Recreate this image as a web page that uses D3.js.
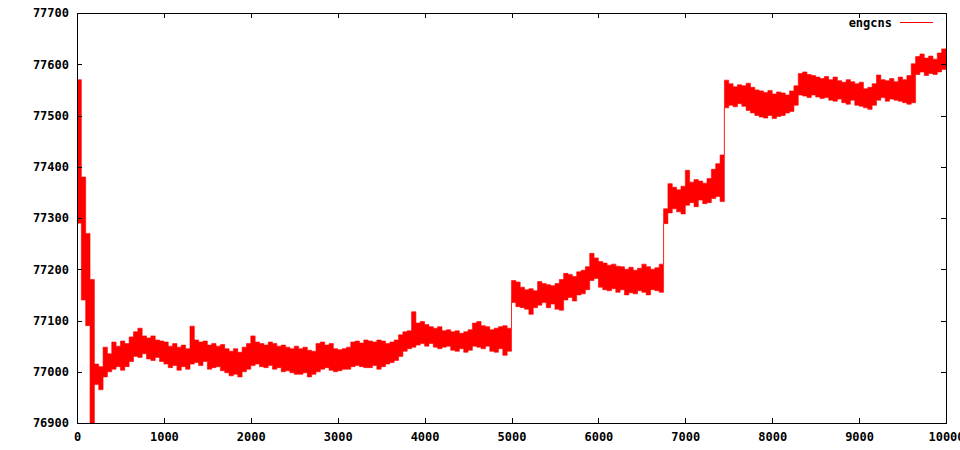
<!DOCTYPE html>
<html>
<head>
<meta charset="utf-8">
<script src="https://cdn.jsdelivr.net/npm/d3@7"></script>
<style>
    body { margin: 0; background: #ffffff; }
    svg { display: block; }
    text { font-family: "DejaVu Sans Mono", "Liberation Mono", monospace; font-size: 12px; font-weight: bold; fill: #000; }
</style>
</head>
<body>
<svg></svg>
<script>
const width = 960
const height = 450

// Data: band of the engcns series, read every 50 steps (upper and lower edge)
const seriesName = "engcns"
const step = 50
const highs = [
    77570, 77380, 77270, 77180, 77015, 77010, 77048, 77035, 77058, 77050,
    77060, 77055, 77068, 77078, 77085, 77070, 77066, 77070, 77062, 77060,
    77058, 77050, 77055, 77048, 77052, 77045, 77089, 77062, 77058, 77060,
    77052, 77055, 77050, 77053, 77045, 77040, 77045, 77038, 77048, 77055,
    77070, 77058, 77055, 77052, 77058, 77055, 77050, 77052, 77048, 77045,
    77050, 77045, 77048, 77042, 77040, 77055, 77058, 77052, 77055, 77045,
    77043, 77045, 77048, 77058, 77060, 77056, 77062, 77060, 77058, 77062,
    77060, 77055, 77058, 77062, 77072, 77078, 77080, 77117, 77095, 77098,
    77092, 77088, 77085, 77088, 77080, 77082, 77078, 77080, 77075, 77078,
    77082, 77095, 77098, 77090, 77088, 77082, 77085, 77088, 77090, 77085,
    77178, 77175, 77165, 77160, 77162, 77158, 77176, 77172, 77170, 77168,
    77172, 77180, 77192, 77190, 77186, 77195, 77198, 77205, 77231, 77222,
    77215, 77212, 77208, 77210, 77206, 77205, 77200, 77204, 77198, 77202,
    77210, 77205, 77200, 77203, 77210, 77318, 77367, 77360, 77355, 77362,
    77393, 77370, 77375, 77372, 77368, 77377, 77395, 77406, 77423, 77569,
    77562, 77556, 77560, 77558, 77563, 77555, 77550, 77548, 77545, 77549,
    77542, 77546, 77544, 77540, 77548, 77558, 77582, 77585, 77580, 77578,
    77575, 77572, 77576, 77570, 77575, 77568, 77565, 77570, 77566, 77562,
    77565, 77552, 77555, 77562, 77579, 77570, 77568, 77572, 77566, 77575,
    77570, 77578, 77601, 77615, 77620, 77612, 77616, 77610, 77622, 77630
]
const lows = [
    77290, 77140, 77090, 76900, 76975, 76965, 76990, 77000, 77005, 77010,
    77003, 77010, 77020, 77030, 77028, 77035, 77025, 77022, 77028, 77020,
    77015, 77008, 77012, 77003, 77010, 77005, 77015, 77018, 77012, 77020,
    77005, 77008, 77010, 77002, 76998, 76992, 76995, 76990, 77000, 77005,
    77012, 77015, 77010, 77008, 77012, 77005, 77008, 77000, 77002, 76998,
    76995, 76995, 76998, 76990, 76995, 77000, 77005, 77008, 77003, 77000,
    77002, 77005, 77005, 77010, 77012, 77010, 77008, 77008, 77012, 77005,
    77010, 77015, 77018, 77022, 77030, 77040, 77045, 77048, 77052, 77055,
    77050, 77055, 77048, 77045, 77048, 77050, 77042, 77040, 77045, 77038,
    77042, 77050, 77048, 77045, 77050, 77040, 77038, 77045, 77032, 77040,
    77135, 77127, 77125, 77122, 77112, 77125, 77130, 77135, 77125, 77132,
    77122, 77120, 77140, 77145, 77138, 77150, 77152, 77160, 77178, 77182,
    77165, 77160, 77158, 77162, 77155, 77160, 77150, 77154, 77152, 77158,
    77155, 77150, 77160, 77158, 77155, 77289, 77310, 77318, 77312, 77308,
    77325, 77330, 77322, 77335, 77328, 77330, 77338, 77342, 77332, 77515,
    77520, 77517, 77523, 77518, 77510, 77505, 77500, 77497, 77495, 77500,
    77494, 77498, 77500, 77505, 77508, 77520, 77540, 77538, 77535, 77540,
    77536, 77533, 77535, 77530, 77528, 77532, 77525, 77522, 77530, 77520,
    77518, 77515, 77512, 77520, 77530, 77535, 77528, 77532, 77530, 77528,
    77525, 77522, 77525, 77580, 77585, 77578, 77582, 77580, 77585, 77590
]

// Axis configuration
const xTicks = [0, 1000, 2000, 3000, 4000, 5000, 6000, 7000, 8000, 9000, 10000]
const yTicks = [76900, 77000, 77100, 77200, 77300, 77400, 77500, 77600, 77700]

const plotLeft = 77
const plotRight = 946
const plotTop = 13
const plotBottom = 423
const tickLength = 5
const lineColor = "#ff0000"

const svg = d3.select("svg")
    .attr("width", width)
    .attr("height", height)

const x = d3.scaleLinear().domain([0, 10000]).range([plotLeft, plotRight])
const y = d3.scaleLinear().domain([76900, 77700]).range([plotBottom, plotTop])

// each sample covers [i*step, (i+1)*step); a closing record carries the last one to the end
const band = highs.map((h, i) => ({ x: i * step, hi: h, lo: lows[i] }))
band.push({ x: highs.length * step, hi: highs[highs.length - 1], lo: lows[lows.length - 1] })

const area = d3.area()
    .curve(d3.curveStepAfter)
    .x(d => x(d.x))
    .y0(d => y(d.lo))
    .y1(d => y(d.hi))

svg.append("defs").append("clipPath")
    .attr("id", "plot-clip")
    .append("rect")
    .attr("x", plotLeft)
    .attr("y", plotTop)
    .attr("width", plotRight - plotLeft)
    .attr("height", plotBottom - plotTop)

svg.append("path")
    .datum(band)
    .attr("clip-path", "url(#plot-clip)")
    .attr("fill", lineColor)
    .attr("stroke", lineColor)
    .attr("stroke-width", 0.6)
    .attr("d", area)

// Axes: gnuplot style, inward ticks mirrored on every side
const axisLeft = d3.axisLeft(y).tickValues(yTicks).tickSize(-tickLength).tickPadding(8).tickFormat(d3.format("d"))
const axisRight = d3.axisRight(y).tickValues(yTicks).tickSize(-tickLength).tickFormat("")
const axisBottom = d3.axisBottom(x).tickValues(xTicks).tickSize(-tickLength).tickPadding(9).tickFormat(d3.format("d"))
const axisTop = d3.axisTop(x).tickValues(xTicks).tickSize(-tickLength).tickFormat("")

function styleAxis(g) {
    g.select(".domain").remove()
    g.selectAll("line").attr("stroke", "#000").attr("shape-rendering", "crispEdges")
    g.selectAll("text").attr("font-family", null).attr("font-size", null)
}

svg.append("g").attr("transform", `translate(${plotLeft},0)`).call(axisLeft).call(styleAxis)
svg.append("g").attr("transform", `translate(${plotRight},0)`).call(axisRight).call(styleAxis)
svg.append("g").attr("transform", `translate(0,${plotBottom})`).call(axisBottom).call(styleAxis)
svg.append("g").attr("transform", `translate(0,${plotTop})`).call(axisTop).call(styleAxis)

svg.append("rect")
    .attr("x", plotLeft + 0.5)
    .attr("y", plotTop + 0.5)
    .attr("width", plotRight - plotLeft)
    .attr("height", plotBottom - plotTop)
    .attr("fill", "none")
    .attr("stroke", "#000")
    .attr("shape-rendering", "crispEdges")

// Legend
const legend = svg.append("g")
legend.append("text")
    .attr("x", 892)
    .attr("y", 27)
    .attr("text-anchor", "end")
    .text(seriesName)
legend.append("line")
    .attr("x1", 900)
    .attr("x2", 933)
    .attr("y1", 22.5)
    .attr("y2", 22.5)
    .attr("stroke", lineColor)
</script>
</body>
</html>
